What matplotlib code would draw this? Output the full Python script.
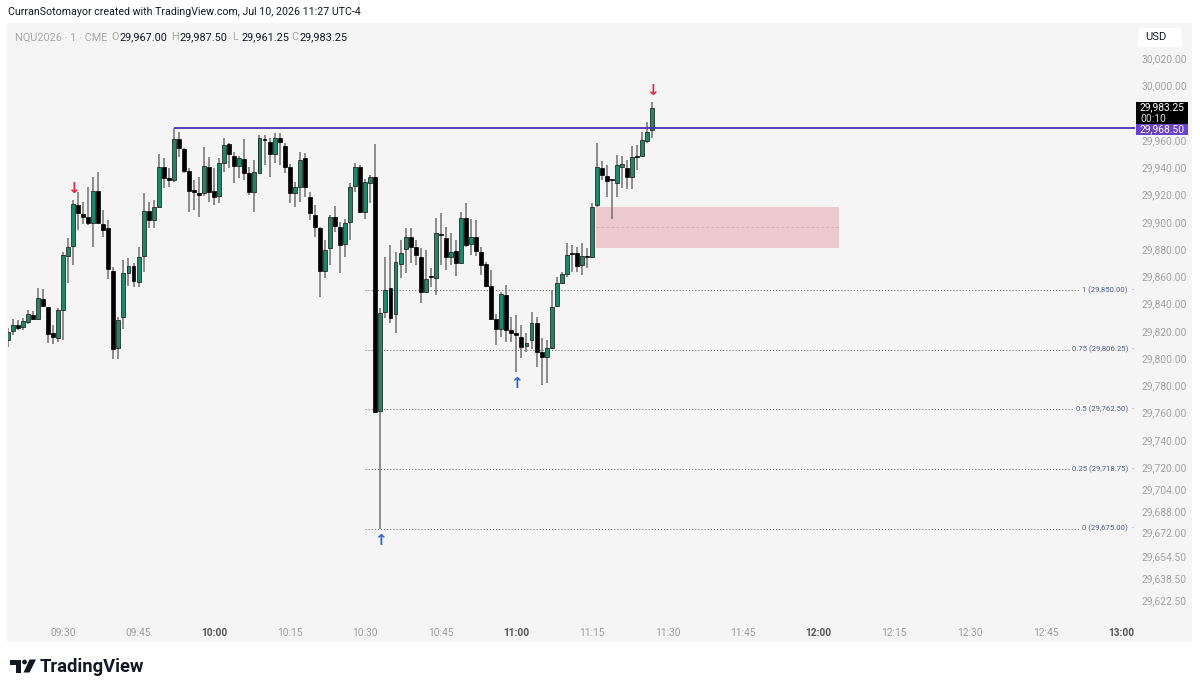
import matplotlib
matplotlib.use("Agg")
import matplotlib.pyplot as plt
from matplotlib.patches import Rectangle, Polygon, Circle, FancyBboxPatch
import numpy as np

plt.rcParams['font.family'] = ['Roboto', 'DejaVu Sans']

# ---------------- data (1-minute candles, NQU2026) ----------------
first_minute = -11  # minutes relative to 09:30 of first candle (09:19)

opens = [29813.2, 29819.8, 29824.2, 29822.5, 29826.6, 29831.5, 29828.6, 29843.2, 29837.1, 29818.1,
         29814.4, 29835.2, 29874.8, 29882.1, 29912.2, 29905.3, 29903.1, 29898.8, 29922.7, 29898.3,
         29895.1, 29864.1, 29807.1, 29829.8, 29862.1, 29867.7, 29856.0, 29874.8, 29908.1, 29901.2,
         29911.0, 29940.3, 29931.8, 29930.6, 29960.6, 29953.0, 29937.4, 29923.2, 29921.2, 29920.8,
         29940.3, 29922.7, 29918.8, 29942.8, 29957.0, 29948.2, 29941.1, 29945.7, 29935.4, 29922.0,
         29935.9, 29960.6, 29958.7, 29949.6, 29961.1, 29955.5, 29940.3, 29921.2, 29925.6, 29946.9,
         29918.3, 29904.9, 29895.1, 29864.1, 29880.4, 29903.6, 29895.8, 29883.6, 29900.0, 29926.1,
         29940.3, 29907.3, 29928.6, 29932.5, 29761.3, 29834.0, 29851.1, 29832.2, 29868.9, 29879.7,
         29889.0, 29881.1, 29873.8, 29848.6, 29860.1, 29858.4, 29890.9, 29887.8, 29873.8, 29878.7,
         29869.9, 29902.4, 29883.6, 29888.5, 29878.0, 29868.9, 29853.0, 29828.3, 29821.0, 29846.2,
         29820.5, 29818.6, 29815.6, 29808.8, 29813.2, 29825.9, 29804.6, 29800.5, 29807.1, 29838.1,
         29855.2, 29861.6, 29876.8, 29876.8, 29868.2, 29874.3, 29874.3, 29912.2, 29939.1, 29933.5,
         29930.6, 29928.6, 29940.3, 29939.1, 29933.0, 29948.1, 29948.1, 29959.4, 29967.00]
highs = [29821.7, 29828.3, 29827.8, 29829.1, 29835.2, 29834.7, 29851.1, 29850.3, 29837.6, 29824.2,
         29836.4, 29878.0, 29887.8, 29915.9, 29922.0, 29914.6, 29925.6, 29933.0, 29936.7, 29908.5,
         29901.2, 29867.0, 29830.3, 29871.9, 29873.1, 29869.4, 29881.6, 29921.2, 29914.6, 29915.9,
         29949.4, 29946.4, 29939.1, 29968.5, 29966.0, 29953.8, 29939.1, 29930.6, 29933.0, 29955.0,
         29947.7, 29939.1, 29946.4, 29961.1, 29957.9, 29951.3, 29948.2, 29960.4, 29940.3, 29945.2,
         29963.6, 29963.6, 29961.1, 29964.8, 29965.3, 29957.4, 29942.3, 29929.3, 29950.8, 29950.1,
         29922.0, 29912.2, 29895.8, 29886.5, 29904.9, 29911.5, 29900.0, 29902.2, 29928.1, 29942.8,
         29941.6, 29931.0, 29934.2, 29956.9, 29836.4, 29874.3, 29882.9, 29878.0, 29886.5, 29895.1,
         29895.1, 29886.5, 29880.4, 29879.2, 29865.7, 29902.4, 29906.1, 29895.8, 29891.4, 29886.5,
         29907.3, 29913.4, 29901.7, 29901.2, 29881.1, 29870.6, 29864.5, 29832.2, 29848.6, 29853.5,
         29830.3, 29831.5, 29824.2, 29818.1, 29834.0, 29830.3, 29814.4, 29813.2, 29849.9, 29859.2,
         29863.3, 29884.6, 29882.9, 29881.6, 29884.1, 29880.4, 29913.9, 29957.4, 29944.7, 29941.6,
         29930.8, 29948.9, 29948.1, 29945.2, 29955.5, 29956.2, 29966.0, 29973.3, 29987.50]
lows = [29808.3, 29816.9, 29820.5, 29820.5, 29824.9, 29827.8, 29827.8, 29837.1, 29810.7, 29810.2,
        29811.9, 29813.2, 29855.2, 29868.2, 29893.9, 29898.3, 29897.5, 29881.6, 29898.0, 29888.5,
        29857.7, 29799.0, 29799.0, 29821.0, 29852.8, 29852.3, 29852.3, 29863.3, 29895.1, 29895.1,
        29909.8, 29924.4, 29925.6, 29929.3, 29947.6, 29935.4, 29907.3, 29908.5, 29903.6, 29918.8,
        29914.6, 29912.2, 29913.4, 29936.7, 29939.1, 29928.1, 29931.8, 29930.6, 29919.5, 29907.3,
        29935.4, 29941.6, 29933.0, 29942.8, 29941.6, 29935.9, 29913.4, 29910.5, 29914.6, 29918.3,
        29901.2, 29889.0, 29845.0, 29858.4, 29868.2, 29892.6, 29862.1, 29874.3, 29886.5, 29922.0,
        29906.6, 29901.7, 29913.4, 29760.0, 29675.0, 29829.1, 29825.4, 29818.6, 29858.4, 29862.1,
        29869.4, 29868.2, 29840.1, 29847.4, 29852.3, 29846.2, 29868.2, 29864.5, 29868.2, 29860.1,
        29868.9, 29881.6, 29875.5, 29874.8, 29860.8, 29852.3, 29827.9, 29809.5, 29815.6, 29811.9,
        29811.9, 29790.0, 29799.7, 29804.6, 29806.3, 29793.6, 29780.2, 29781.4, 29806.6, 29837.6,
        29854.3, 29859.6, 29863.3, 29863.3, 29860.9, 29865.8, 29873.1, 29911.0, 29930.6, 29917.8,
        29901.7, 29918.3, 29924.4, 29923.7, 29923.7, 29937.9, 29947.6, 29957.4, 29961.25]
closes = [29819.3, 29824.2, 29821.7, 29827.1, 29832.0, 29828.6, 29843.7, 29838.1, 29817.6, 29815.1,
          29835.2, 29875.6, 29881.2, 29912.7, 29906.1, 29903.1, 29899.2, 29922.7, 29898.8, 29893.9,
          29865.0, 29806.3, 29827.8, 29862.1, 29867.7, 29856.5, 29874.3, 29908.1, 29901.2, 29910.5,
          29940.3, 29931.8, 29930.6, 29960.4, 29953.8, 29937.1, 29922.7, 29922.0, 29919.5, 29941.1,
          29922.0, 29917.8, 29942.8, 29956.2, 29949.6, 29941.1, 29946.9, 29935.4, 29922.0, 29936.7,
          29961.1, 29960.1, 29949.6, 29961.1, 29958.7, 29940.3, 29921.2, 29925.1, 29945.2, 29925.6,
          29906.1, 29896.3, 29864.1, 29879.2, 29903.6, 29896.8, 29882.8, 29899.2, 29925.6, 29940.3,
          29907.3, 29929.3, 29932.5, 29760.6, 29832.7, 29849.8, 29829.1, 29870.6, 29876.7, 29889.0,
          29881.1, 29875.5, 29848.6, 29857.7, 29859.1, 29891.4, 29889.9, 29873.8, 29878.0, 29869.9,
          29902.4, 29882.9, 29888.5, 29878.7, 29868.2, 29853.0, 29828.3, 29821.0, 29846.9, 29820.5,
          29818.6, 29816.9, 29808.3, 29810.7, 29825.9, 29804.6, 29801.0, 29807.1, 29837.6, 29854.8,
          29861.6, 29875.5, 29876.3, 29867.5, 29874.8, 29873.8, 29911.0, 29939.8, 29934.2, 29930.1,
          29930.3, 29941.6, 29942.0, 29933.0, 29947.2, 29947.6, 29959.9, 29966.0, 29983.25]

time_tick_minutes = [0, 15, 30, 45, 60, 75, 90, 105, 120, 135, 150, 165, 180, 195, 210]
time_tick_labels = ["09:30", "09:45", "10:00", "10:15", "10:30", "10:45", "11:00", "11:15",
                    "11:30", "11:45", "12:00", "12:15", "12:30", "12:45", "13:00"]
bold_time_labels = ["10:00", "11:00", "12:00", "13:00"]

price_ticks = [30020.0, 30000.0, 29960.0, 29940.0, 29920.0, 29900.0, 29880.0, 29860.0, 29840.0,
               29820.0, 29800.0, 29780.0, 29760.0, 29740.0, 29720.0, 29704.0, 29688.0, 29672.0,
               29654.5, 29638.5, 29622.5]

fib_ratios = ["1", "0.75", "0.5", "0.25", "0"]
fib_prices = [29850.00, 29806.25, 29762.50, 29718.75, 29675.00]
fib_start_minute = 60

level_price = 29968.50
level_start_minute = 22
last_price = 29983.25

zone_top = 29911.0
zone_bottom = 29880.9
zone_start_minute = 105.7
zone_end_minute = 154.0

sell_arrow_candles = [14, 129]
buy_arrow_candles = [75, 102]

# ---------------- figure ----------------
W, H = 1200, 692
fig = plt.figure(figsize=(W / 100, H / 100), dpi=100, facecolor='white')

def fx(px):
    return px / W

def fy(py):
    return 1 - py / H

BG = '#f5f5f5'
panel = Rectangle((fx(7), fy(642)), fx(1192) - fx(7), fy(23) - fy(642),
                  transform=fig.transFigure, facecolor=BG, edgecolor='none', zorder=-10)
fig.patches.append(panel)

ax_left, ax_right, ax_top, ax_bottom = 8, 1135, 24, 620
ax = fig.add_axes([fx(ax_left), fy(ax_bottom), fx(ax_right) - fx(ax_left), fy(ax_top) - fy(ax_bottom)])
ax.set_facecolor(BG)
px_per_min = 5.038
x0_px = 63
ax.set_xlim((ax_left - x0_px) / px_per_min, (ax_right - x0_px) / px_per_min)
ax.set_ylim(29607.9, 30045.0)
for s in ax.spines.values():
    s.set_visible(False)

n = len(opens)
xs = first_minute + np.arange(n)
o = np.array(opens); c = np.array(closes); h = np.array(highs); l = np.array(lows)
up = c >= o

GREEN = '#1f8767'
WICK = '#707070'
ax.vlines(xs, l, h, color=WICK, linewidth=1.1, zorder=3)
bottom = np.minimum(o, c)
height = np.maximum(np.abs(c - o), 0.8)
ax.bar(xs[up], height[up], bottom=bottom[up], width=0.78, color=GREEN,
       edgecolor='#111111', linewidth=0.5, zorder=4)
ax.bar(xs[~up], height[~up], bottom=bottom[~up], width=0.78, color='#000000',
       edgecolor='#000000', linewidth=0.5, zorder=4)

# supply/demand zone
ax.add_patch(Rectangle((zone_start_minute, zone_bottom), zone_end_minute - zone_start_minute,
                       zone_top - zone_bottom, facecolor='#ecc9cc', edgecolor='none', zorder=2))
ax.plot([zone_start_minute, zone_end_minute], [(zone_top + zone_bottom) / 2] * 2,
        color='#cfa9ad', linewidth=0.6, linestyle=(0, (3, 3)), zorder=2)

# horizontal level
xmax = ax.get_xlim()[1]
ax.plot([level_start_minute, xmax], [level_price, level_price], color='#4634b3',
        linewidth=1.3, zorder=5, solid_capstyle='butt')

# fib levels
label_right_min = (1128 - x0_px) / px_per_min
for r, p in zip(fib_ratios, fib_prices):
    ax.plot([fib_start_minute, label_right_min], [p, p], color='#5c5c5c', linewidth=0.7,
            linestyle=(0, (1, 2.2)), zorder=2)
    ax.text(label_right_min, p, f"{r} ({p:,.2f})", ha='right', va='center', fontsize=5.6,
            color='#4f5b8e', zorder=6,
            bbox=dict(boxstyle='square,pad=0.25', facecolor=BG, edgecolor='none'))
    ax.text((1133 - x0_px) / px_per_min, p, "·", ha='center', va='center', fontsize=6,
            color='#4f5b8e', zorder=6)

# arrows
for i in sell_arrow_candles:
    ax.annotate("↓", (xs[i - 1], h[i - 1]), xytext=(0, 8.5), textcoords='offset points',
                ha='center', va='center', fontsize=11, fontweight='bold', color='#e0284f',
                family=['DejaVu Sans'], zorder=7)
for i in buy_arrow_candles:
    ax.annotate("↑", (xs[i - 1], l[i - 1]), xytext=(0, -8.5), textcoords='offset points',
                ha='center', va='center', fontsize=11, fontweight='bold', color='#2f62e0',
                family=['DejaVu Sans'], zorder=7)

# axes ticks
ax.set_xticks(time_tick_minutes)
ax.set_xticklabels(time_tick_labels)
ax.tick_params(axis='x', length=0, pad=6, labelsize=7.3, labelcolor='#9d9d9d')
for t in ax.get_xticklabels():
    if t.get_text() in bold_time_labels:
        t.set_fontweight('bold')
        t.set_color('#555555')
ax.yaxis.tick_right()
ax.set_yticks(price_ticks)
ax.set_yticklabels([f"{p:,.2f}" for p in price_ticks])
ax.tick_params(axis='y', length=0, pad=5, labelsize=7.4, labelcolor='#a3a3a3')

# ---------------- overlay decorations ----------------
ov = fig.add_axes([0, 0, 1, 1], zorder=10)
ov.set_xlim(0, W); ov.set_ylim(H, 0); ov.axis('off')
ov.patch.set_alpha(0)

ov.text(8, 12, "CurranSotomayor created with TradingView.com, Jul 10, 2026 11:27 UTC-4",
        fontsize=7.7, color='#131722', va='center', ha='left')

ov.text(15, 37.5, "NQU2026 · 1 · CME", fontsize=7.8, color='#a8a8a8', va='center')
ohlc_vals = [opens[-1], highs[-1], lows[-1], closes[-1]]
for letter, val, xl in zip("OHLC", ohlc_vals, [111, 171, 232, 291]):
    ov.text(xl, 37.5, letter, fontsize=7.8, color='#a8a8a8', va='center')
    ov.text(xl + 9.0, 37.5, f"{val:,.2f}", fontsize=7.8, color='#131722', va='center')

# USD box
ov.add_patch(FancyBboxPatch((1138, 28), 44, 19, boxstyle='round,pad=0,rounding_size=3',
                            facecolor='white', edgecolor='none'))
ov.text(1156, 37.5, "USD", fontsize=8, color='#131722', va='center', ha='center')

# last price box
ov.add_patch(Rectangle((1136, 102), 52, 22, facecolor='#000000', edgecolor='none'))
ov.text(1140, 107.5, f"{last_price:,.2f}", fontsize=7.4, color='white', va='center')
ov.text(1140, 118.5, "00:10", fontsize=7.4, color='#dddddd', va='center')
# level price box
ov.add_patch(Rectangle((1136, 124), 52, 11, facecolor='#6b43c9', edgecolor='none'))
ov.text(1140, 129.5, f"{level_price:,.2f}", fontsize=7.4, color='white', va='center')

# TradingView logo
ov.add_patch(Polygon([(10, 659.5), (21, 659.5), (21, 672.5), (16, 672.5), (16, 664.5), (10, 664.5)],
                     closed=True, facecolor='#131722', edgecolor='none'))
ov.add_patch(Circle((24.5, 662), 2.4, facecolor='#131722', edgecolor='none'))
ov.add_patch(Polygon([(29.5, 659.5), (36, 659.5), (29.5, 672.5), (23.5, 672.5)],
                     closed=True, facecolor='#131722', edgecolor='none'))
ov.text(40, 666.5, "TradingView", fontsize=13.2, fontweight='bold', color='#131722',
        va='center', ha='left')

fig.savefig("out.png", dpi=100, facecolor='white')
